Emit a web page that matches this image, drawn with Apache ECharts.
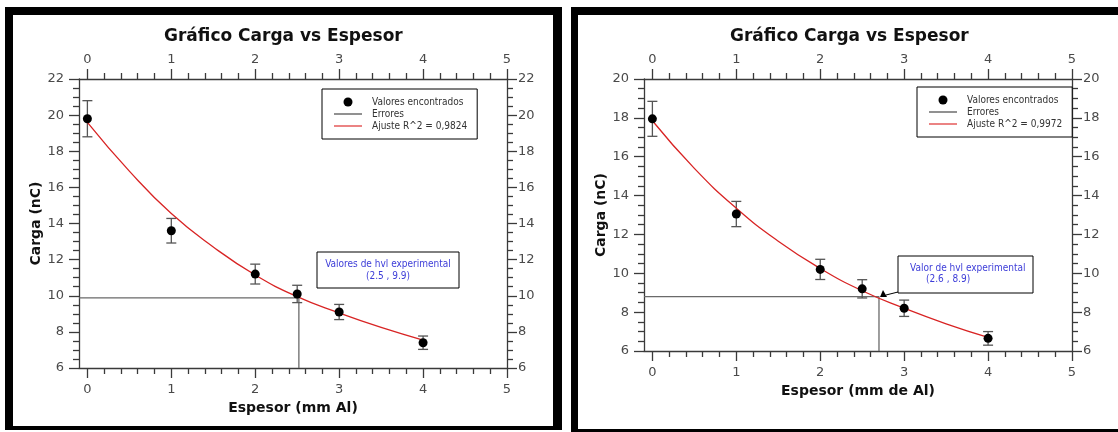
<!DOCTYPE html>
<html>
<head>
<meta charset="utf-8">
<script src="https://cdn.jsdelivr.net/npm/echarts@6/dist/echarts.min.js"></script>
<style>
  html, body { margin: 0; padding: 0; background: #fff; overflow: hidden; }
  .frame { position: absolute; box-sizing: border-box; border: 0 solid #000; }
  #frameA { left: 5px; top: 7px; width: 557px; height: 423px; border-width: 8px 9px 4px 8px; }
  #frameB { left: 571px; top: 7px; width: 570px; height: 425px; border-width: 8px 8px 3px 7px; }
  #chart { position: absolute; left: 0; top: 0; width: 1118px; height: 432px; }
</style>
</head>
<body>
<div class="frame" id="frameA"></div>
<div class="frame" id="frameB"></div>
<div id="chart"></div>
<script>
// ejes
const xMin = -0.1, xMax = 5;
const xMajor = [0, 1, 2, 3, 4, 5];
const xMinor = [0.2, 0.4, 0.6, 0.8, 1.2, 1.4, 1.6, 1.8, 2.2, 2.4, 2.6, 2.8,
                3.2, 3.4, 3.6, 3.8, 4.2, 4.4, 4.6, 4.8];
const espesor = [0, 1, 2, 2.5, 3, 4];
const ajusteX = [0, 0.5, 1, 1.5, 2, 2.5, 3, 3.5, 4];

// gráfico izquierdo
const cargaA = [19.8, 13.6, 11.2, 10.1, 9.1, 7.4];
const errA = [1.0, 0.68, 0.55, 0.48, 0.42, 0.37];
const ajusteA = [19.6, 16.9, 14.55, 12.7, 11.15, 9.95, 9.05, 8.25, 7.55];
const hvlA = [2.52, 9.88];
const yRangeA = [6, 22];

// gráfico derecho
const cargaB = [17.95, 13.05, 10.2, 9.2, 8.2, 6.65];
const errB = [0.9, 0.65, 0.52, 0.47, 0.42, 0.35];
const ajusteB = [17.85, 15.4, 13.35, 11.65, 10.25, 9.1, 8.2, 7.4, 6.7];
const hvlB = [2.7, 8.8];
const yRangeB = [6, 20];

const axisColor = '#3a3a3a';
const labelColor = '#4a4a4a';
const narrow = "'Liberation Sans Narrow', 'DejaVu Sans Condensed', sans-serif";
const lineStyle = { color: axisColor, width: 1.3 };
const lineIcon = 'path://M0,0H28V1.3H0Z';

function xAxes(gridIndex, name) {
  const common = { type: 'value', gridIndex: gridIndex, min: xMin, max: xMax, splitLine: { show: false } };
  const major = (pos, margin) => ({
    ...common, position: pos,
    axisLine: { show: true, onZero: false, lineStyle: lineStyle },
    axisTick: { show: true, customValues: xMajor, length: 10, lineStyle: lineStyle },
    axisLabel: { customValues: xMajor, margin: margin, color: labelColor, fontSize: 13 }
  });
  const minor = (pos) => ({
    ...common, position: pos,
    axisLine: { show: false, onZero: false },
    axisTick: { show: true, customValues: xMinor, length: 6, lineStyle: lineStyle },
    axisLabel: { show: false }
  });
  const bottom = major('bottom', 15);
  bottom.name = name;
  bottom.nameLocation = 'middle';
  bottom.nameGap = 29;
  bottom.nameTextStyle = { fontWeight: 'bold', fontSize: 14, color: '#111' };
  return [bottom, minor('bottom'), major('top', 13), minor('top')];
}

function yAxes(gridIndex, range) {
  const common = {
    type: 'value', gridIndex: gridIndex, min: range[0], max: range[1], interval: 2,
    splitLine: { show: false },
    axisLine: { show: true, onZero: false, lineStyle: lineStyle },
    axisTick: { show: true, length: 10, lineStyle: lineStyle },
    minorTick: { show: true, splitNumber: 4, length: 6, lineStyle: lineStyle }
  };
  return [
    { ...common, position: 'left', name: 'Carga (nC)', nameLocation: 'middle', nameGap: 36,
      nameTextStyle: { fontWeight: 'bold', fontSize: 14, color: '#111' },
      axisLabel: { margin: 15, color: labelColor, fontSize: 13 } },
    { ...common, position: 'right', axisLabel: { margin: 11, color: labelColor, fontSize: 13 } }
  ];
}

function errorSeries(k, carga, err) {
  return {
    type: 'custom', name: 'Errores', xAxisIndex: 4 * k, yAxisIndex: 2 * k, z: 3,
    itemStyle: { color: '#555' },
    encode: { x: 0, y: [1, 2] },
    data: espesor.map((x, i) => [x, carga[i] - err[i], carga[i] + err[i]]),
    renderItem: (params, api) => {
      const lo = api.coord([api.value(0), api.value(1)]);
      const hi = api.coord([api.value(0), api.value(2)]);
      const w = 5;
      const st = { stroke: '#555', lineWidth: 1.3 };
      return {
        type: 'group',
        children: [
          { type: 'line', shape: { x1: hi[0], y1: hi[1], x2: lo[0], y2: lo[1] }, style: st },
          { type: 'line', shape: { x1: hi[0] - w, y1: hi[1], x2: hi[0] + w, y2: hi[1] }, style: st },
          { type: 'line', shape: { x1: lo[0] - w, y1: lo[1], x2: lo[0] + w, y2: lo[1] }, style: st }
        ]
      };
    }
  };
}

function chartSeries(k, carga, err, ajuste, r2name, hvl, range) {
  return [
    {
      type: 'line', name: 'hvl', xAxisIndex: 4 * k, yAxisIndex: 2 * k, z: 2,
      symbol: 'none', lineStyle: { color: '#6a6a6a', width: 1.3 },
      data: [[xMin, hvl[1]], [hvl[0], hvl[1]], [hvl[0], range[0]]]
    },
    errorSeries(k, carga, err),
    {
      type: 'line', name: r2name, xAxisIndex: 4 * k, yAxisIndex: 2 * k, z: 4,
      smooth: true, symbol: 'none', showSymbol: false,
      lineStyle: { color: '#d82424', width: 1.3 },
      itemStyle: { color: '#d82424' },
      data: ajusteX.map((x, i) => [x, ajuste[i]])
    },
    {
      type: 'scatter', name: 'Valores encontrados', xAxisIndex: 4 * k, yAxisIndex: 2 * k, z: 5,
      symbol: 'circle', symbolSize: 9, itemStyle: { color: '#000', opacity: 1 },
      data: espesor.map((x, i) => [x, carga[i]])
    }
  ];
}

function legend(left, top, r2name) {
  return {
    left: left, top: top, orient: 'vertical', selectedMode: false,
    padding: [8, 10, 8, 12], itemGap: 2, itemWidth: 28, itemHeight: 9,
    borderColor: '#000', borderWidth: 1, backgroundColor: '#fff', borderRadius: 0,
    textStyle: { fontFamily: narrow, fontSize: 10, color: '#333', lineHeight: 9, padding: [0, 0, 0, 5] },
    data: [
      { name: 'Valores encontrados', icon: 'circle', itemStyle: { color: '#000' } },
      { name: 'Errores', icon: lineIcon, itemStyle: { color: '#555' } },
      { name: r2name, icon: lineIcon, itemStyle: { color: '#e04040' } }
    ]
  };
}

const chart = echarts.init(document.getElementById('chart'));
const option = {
  animation: false,
  textStyle: { fontFamily: "'DejaVu Sans', sans-serif" },
  title: [
    { text: 'Gráfico Carga vs Espesor', left: 164, top: 28, padding: 0,
      textStyle: { fontWeight: 'bold', fontSize: 17, color: '#111' } },
    { text: 'Gráfico Carga vs Espesor', left: 730, top: 28, padding: 0,
      textStyle: { fontWeight: 'bold', fontSize: 17, color: '#111' } }
  ],
  legend: [
    legend(322, 89, 'Ajuste R^2 = 0,9824'),
    legend(917, 87, 'Ajuste R^2 = 0,9972')
  ],
  grid: [
    { left: 79, top: 79, width: 428, height: 289, outerBoundsMode: 'none' },
    { left: 644, top: 79, width: 428, height: 272, outerBoundsMode: 'none' }
  ],
  xAxis: [...xAxes(0, 'Espesor (mm Al)'), ...xAxes(1, 'Espesor (mm de Al)')],
  yAxis: [...yAxes(0, yRangeA), ...yAxes(1, yRangeB)],
  series: [
    ...chartSeries(0, cargaA, errA, ajusteA, 'Ajuste R^2 = 0,9824', hvlA, yRangeA),
    ...chartSeries(1, cargaB, errB, ajusteB, 'Ajuste R^2 = 0,9972', hvlB, yRangeB)
  ],
  graphic: [
    { type: 'rect', z: 10, shape: { x: 317, y: 252, width: 142, height: 36 },
      style: { fill: '#fff', stroke: '#000', lineWidth: 1 } },
    { type: 'text', z: 11, x: 388, y: 264,
      style: { text: 'Valores de hvl experimental', fill: '#3d3dd8', font: '10px ' + narrow, align: 'center', verticalAlign: 'middle' } },
    { type: 'text', z: 11, x: 388, y: 276,
      style: { text: '(2.5 , 9.9)', fill: '#3d3dd8', font: '10px ' + narrow, align: 'center', verticalAlign: 'middle' } },
    { type: 'rect', z: 10, shape: { x: 898, y: 256, width: 135, height: 37 },
      style: { fill: '#fff', stroke: '#000', lineWidth: 1 } },
    { type: 'text', z: 11, x: 910, y: 268,
      style: { text: 'Valor de hvl experimental', fill: '#3d3dd8', font: '10px ' + narrow, align: 'left', verticalAlign: 'middle' } },
    { type: 'text', z: 11, x: 926, y: 279,
      style: { text: '(2.6 , 8.9)', fill: '#3d3dd8', font: '10px ' + narrow, align: 'left', verticalAlign: 'middle' } },
    { type: 'line', z: 10, shape: { x1: 886, y1: 295, x2: 898, y2: 292 },
      style: { stroke: '#000', lineWidth: 1 } },
    { type: 'polygon', z: 10, shape: { points: [[880, 297], [887, 297], [883, 290]] },
      style: { fill: '#000' } }
  ]
};
chart.setOption(option);
</script>
</body>
</html>
